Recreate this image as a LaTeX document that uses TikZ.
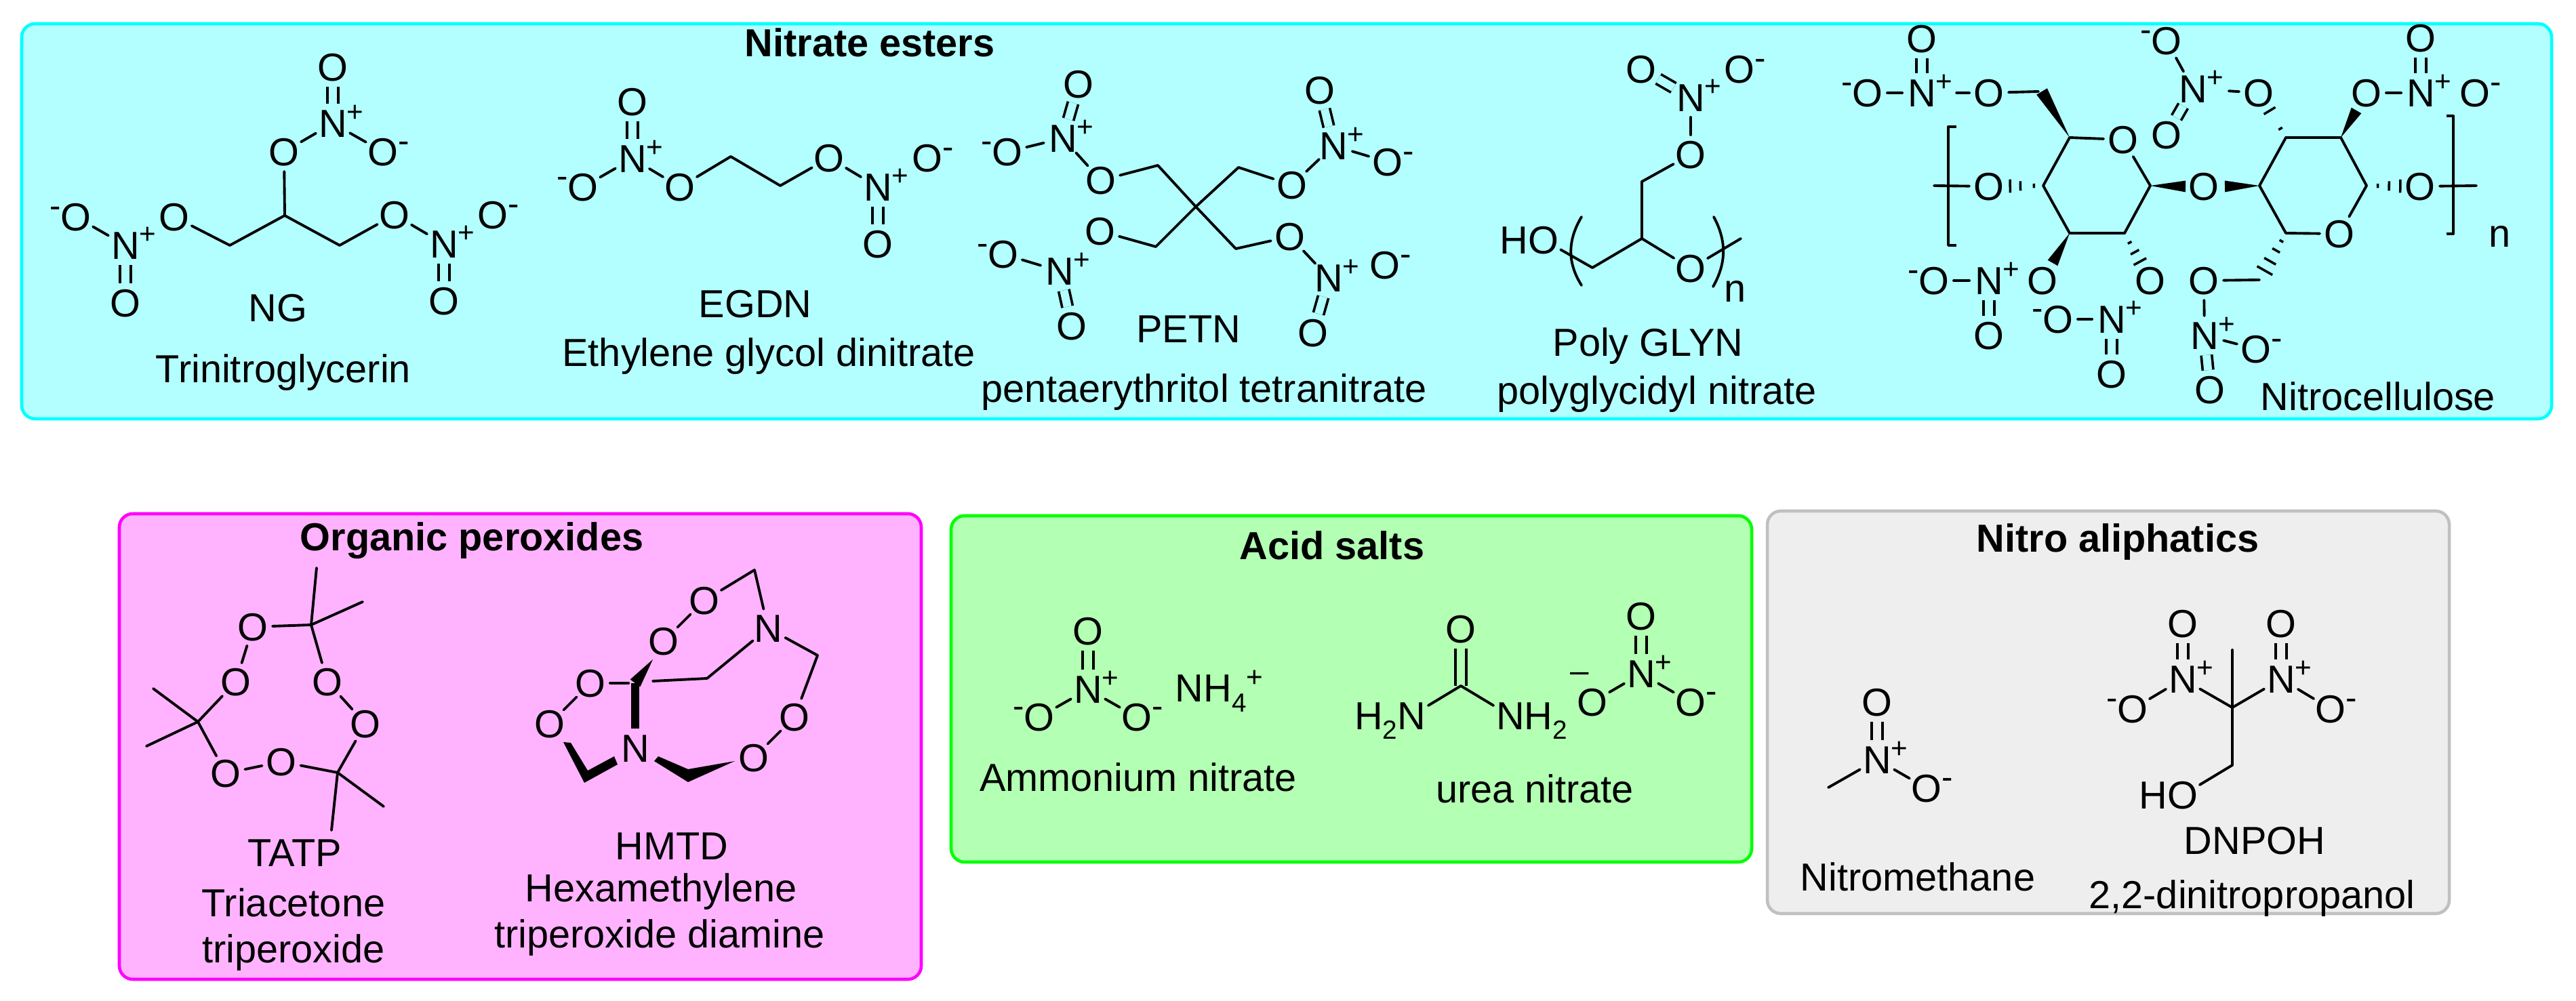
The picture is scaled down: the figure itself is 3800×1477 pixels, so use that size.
\documentclass[tikz,border=0pt]{standalone}
\usepackage{fontspec}
\setmainfont{Liberation Sans}
\usetikzlibrary{calc}
\definecolor{cyanbg}{HTML}{B3FFFF}\definecolor{cyanln}{HTML}{00FFFF}
\definecolor{pinkbg}{HTML}{FFB3FF}\definecolor{pinkln}{HTML}{FF00FF}
\definecolor{greenbg}{HTML}{B3FFB3}\definecolor{greenln}{HTML}{00FF00}
\definecolor{graybg}{HTML}{EEEEEE}\definecolor{grayln}{HTML}{C0C0C0}
\newcommand\chgfont{\fontsize{12}{12}\selectfont}
\newcommand\minfont{\fontsize{14}{14}\selectfont}
\newcommand\atm[1]{\makebox[0pt]{\raisebox{-5.87pt}[0pt][0pt]{#1}}}
\newcommand\Np{N\rlap{\raisebox{6.5pt}{\chgfont+}}}
\newcommand\Or{O\rlap{\raisebox{5.7pt}{\minfont-}}}
\newcommand\Ol{\llap{\raisebox{5.7pt}{\minfont-}}O}
\newcommand\subn[1]{\raisebox{-4pt}{\fontsize{11}{11}\selectfont #1}}
\newcommand\Atom[4]{\node[atom] (#1) at (#2,#3) {\atm{#4}};}
\newcommand\Cc[3]{\coordinate (#1) at (#2,#3);}
\newcommand\Bonds[1]{\foreach \aa/\bb in {#1} \draw[bond] (\aa) -- (\bb);}
\newcommand\Dbls[2]{\foreach \aa/\bb in {#2} \draw[dblb=#1] (\aa) -- (\bb);}
\newcommand\WedgeB[3]{\fill ($(#1)$) -- ($(#2)!#3!90:(#1)$) -- ($(#2)!#3!-90:(#1)$) -- cycle;}
\newcommand\HashB[3]{\foreach \ff/\ww in {#3} \draw[hashb] ($(#1)!\ff!(#2)!\ww!90:(#2)$) -- ($(#1)!\ff!(#2)!\ww!-90:(#2)$);}
\tikzset{
  atom/.style={circle,inner sep=0pt,outer sep=0pt,minimum size=5.8mm,font=\fontsize{16.4}{20}\selectfont},
  lbl/.style={anchor=base,inner sep=0pt,font=\fontsize{16.4}{20}\selectfont},
  ttl/.style={anchor=base,inner sep=0pt,font=\fontsize{16.4}{20}\selectfont\bfseries},
  bond/.style={line width=1.1pt,line cap=round,line join=round},
  dblb/.style={line width=1.05pt,double=#1,double distance=3.4pt},
  hashb/.style={line width=1pt},
  panel/.style={line width=1.3pt,rounded corners=2mm},
}
\begin{document}
\begin{tikzpicture}[x=0.01cm,y=-0.01cm]
\useasboundingbox (0,0) rectangle (3800,1477);
\fill[white] (0,0) rectangle (3800,1477);
\draw[panel,fill=cyanbg,draw=cyanln] (32,35) rectangle (3764,618);
\draw[panel,fill=pinkbg,draw=pinkln] (176,758) rectangle (1359,1445);
\draw[panel,fill=greenbg,draw=greenln] (1403,761) rectangle (2584,1272);
\draw[panel,fill=graybg,draw=grayln] (2607,754) rectangle (3613,1348);
% titles
\node[ttl] (t1) at (1283,84) {Nitrate esters};
\node[ttl] (t2) at (696,813) {Organic peroxides};
\node[ttl] (t3) at (1965,826) {Acid salts};
\node[ttl] (t4) at (3124,815) {Nitro aliphatics};
% ---------- NG
\Atom{a1}{491}{99}{O}\Atom{a2}{491}{182}{\Np}\Atom{a3}{419}{224}{O}\Atom{a4}{565}{224}{\Or}
\Cc{a5}{420}{318}\Cc{a6}{339}{362}\Cc{a7}{501}{362}
\Atom{a8}{257}{320}{O}\Atom{a9}{185}{362}{\Np}\Atom{a10}{112}{320}{\Ol}\Atom{a11}{185}{447}{O}
\Atom{a12}{582}{317}{O}\Atom{a13}{655}{360}{\Np}\Atom{a14}{727}{317}{\Or}\Atom{a15}{655}{444}{O}
\Dbls{cyanbg}{a1/a2,a9/a11,a13/a15}
\Bonds{a3/a2,a2/a4,a3/a5,a5/a6,a5/a7,a6/a8,a10/a9,a7/a12,a12/a13}
\node[lbl] (ng) at (410,475) {NG};
\node[lbl] (ngn) at (418,565) {Trinitroglycerin};
% ---------- EGDN
\Atom{b1}{860}{276}{\Ol}\Atom{b2}{933}{234}{\Np}\Atom{b3}{933}{150}{O}\Atom{b4}{1003}{276}{O}
\Cc{b5}{1078}{231}\Cc{b6}{1151}{274}
\Atom{b7}{1223}{233}{O}\Atom{b8}{1295}{276}{\Np}\Atom{b9}{1368}{233}{\Or}\Atom{b10}{1295}{360}{O}
\Dbls{cyanbg}{b2/b3,b8/b10}
\Bonds{b1/b2,b2/b4,b4/b5,b5/b6,b6/b7,b7/b8}
\node[lbl] (eg) at (1114,469) {EGDN};
\node[lbl] (egn) at (1134,541) {Ethylene glycol dinitrate};
% ---------- PETN
\Atom{c1}{1486}{224}{\Ol}\Atom{c2}{1568}{204}{\Np}\Atom{c3}{1591}{124}{O}\Atom{c4}{1624}{266}{O}
\Cc{c5}{1708}{244}\Cc{c6}{1764}{305}\Cc{c7}{1827}{247}
\Atom{c8}{1906}{273}{O}\Atom{c9}{1967}{215}{\Np}\Atom{c10}{1947}{133}{O}\Atom{c11}{2047}{239}{\Or}
\Cc{c12}{1705}{364}\Atom{c13}{1623}{341}{O}\Atom{c14}{1563}{400}{\Np}\Atom{c15}{1480}{375}{\Ol}\Atom{c16}{1581}{481}{O}
\Cc{c17}{1823}{367}\Atom{c18}{1903}{349}{O}\Atom{c19}{1960}{410}{\Np}\Atom{c20}{1937}{491}{O}\Atom{c21}{2043}{391}{\Or}
\Dbls{cyanbg}{c2/c3,c9/c10,c14/c16,c19/c20}
\Bonds{c1/c2,c2/c4,c4/c5,c5/c6,c7/c6,c6/c12,c6/c17,c7/c8,c8/c9,c9/c11,c12/c13,c15/c14,c17/c18,c18/c19}
\node[lbl] (pe) at (1753,506) {PETN};
\node[lbl] (pen) at (1776,594) {pentaerythritol tetranitrate};
% ---------- Poly GLYN
\Atom{d1}{2421}{102}{O}\Atom{d2}{2494}{144}{\Np}\Atom{d3}{2566}{102}{\Or}\Atom{d4}{2494}{228}{O}
\Cc{d5}{2422}{268}\Cc{d6}{2422}{352}\Cc{d7}{2349}{395}
\Atom{d8}{2277}{354}{\llap{H}O}\Atom{d9}{2494}{396}{O}\Cc{d10}{2568}{352}
\Dbls{cyanbg}{d2/d1}
\Bonds{d2/d4,d4/d5,d5/d6,d6/d7,d7/d8,d6/d9,d9/d10}
\draw[bond] (2333,320) .. controls (2312,355) and (2312,388) .. (2333,421);
\draw[bond] (2528,320) .. controls (2547,355) and (2547,388) .. (2527,423);
\node[lbl] (dn) at (2560,446) {n};
\node[lbl] (gl) at (2431,526) {Poly GLYN};
\node[lbl] (gln) at (2444,597) {polyglycidyl nitrate};
% ---------- Nitrocellulose
\Atom{e1}{2755}{137}{\Ol}\Atom{e2}{2835}{137}{\Np}\Atom{e3}{2835}{57}{O}\Atom{e4}{2934}{137}{O}
\Cc{e5}{3007}{135}\Cc{e5w}{3012}{135}\Cc{e6}{3053}{203}\Atom{e7}{3132}{206}{O}\Cc{e8}{3172}{274}\Cc{e9}{3134}{344}\Cc{e10}{3053}{344}\Cc{e11}{3014}{274}
\Atom{e12}{2934}{275}{O}\Cc{e13}{2853}{274}
\Atom{e14}{3251}{275}{O}\Cc{e15}{3224}{275}\Cc{e16}{3282}{275}
\Cc{e17}{3333}{274}\Cc{e18}{3372}{203}\Cc{e19}{3453}{203}\Cc{e20}{3491}{274}\Atom{e21}{3451}{345}{O}\Cc{e22}{3372}{344}
\Atom{e23}{3570}{275}{O}\Cc{e24}{3653}{274}
\Atom{e25}{3491}{137}{O}\Atom{e26}{3571}{137}{\Np}\Atom{e27}{3571}{56}{O}\Atom{e28}{3651}{137}{\Or}\Cc{e25w}{3476}{163}
\Atom{e29}{3332}{137}{O}\Atom{e30}{3235}{131}{\Np}\Atom{e31}{3196}{60}{\Ol}\Atom{e32}{3196}{199}{O}
\Atom{e33}{3013}{414}{O}\Cc{e33w}{3028}{388}\Atom{e34}{2934}{414}{\Np}\Atom{e35}{2853}{414}{\Ol}\Atom{e36}{2934}{495}{O}
\Atom{e37}{3172}{414}{O}\Atom{e38}{3115}{471}{\Np}\Atom{e39}{3036}{471}{\Ol}\Atom{e40}{3115}{552}{O}
\Cc{e41}{3333}{413}\Atom{e42}{3251}{414}{O}\Atom{e43}{3252}{495}{\Np}\Atom{e44}{3328}{515}{\Or}\Atom{e45}{3260}{575}{O}
\Dbls{cyanbg}{e2/e3,e26/e27,e30/e32,e34/e36,e38/e40,e43/e45}
\Bonds{e1/e2,e4/e5,e6/e7,e7/e8,e8/e9,e9/e10,e10/e11,e11/e6,e12/e13,e17/e18,e18/e19,e19/e20,e20/e21,e21/e22,e22/e17,e23/e24,e25/e26,e30/e31,e35/e34,e39/e38,e41/e42,e42/e43,e43/e44}
\draw[bond,shorten <=6.3pt] (e2) -- (e4);
\draw[bond,shorten <=6.8pt] (e30) -- (e29);
\WedgeB{e6}{e5w}{2.6pt}\WedgeB{e8}{e15}{2.4pt}\WedgeB{e17}{e16}{2.4pt}\WedgeB{e19}{e25w}{2.4pt}\WedgeB{e10}{e33w}{2.4pt}
\HashB{e11}{e12}{.17/.9pt,.42/2pt,.61/2.8pt}
\HashB{e20}{e23}{.21/.9pt,.42/2pt,.63/2.8pt}
\HashB{e18}{e29}{.2/.9pt,.6/2.8pt}
\HashB{e9}{e37}{.2/.9pt,.4/2pt,.6/3pt}
\HashB{e22}{e41}{.17/.9pt,.37/1.8pt,.6/2.8pt,.8/3.7pt}
\draw[bond,line cap=butt] (2886,187) -- (2874,187) -- (2874,362) -- (2886,362);
\draw[bond,line cap=butt] (3609,171) -- (3619,171) -- (3619,345) -- (3609,345);
\node[lbl] (en) at (3687,365) {n};
\node[lbl] (nc) at (3508,606) {Nitrocellulose};
% ---------- TATP
\Cc{f1}{459}{922}\Cc{f2}{467}{838}\Cc{f3}{535}{888}
\Atom{f4}{373}{925}{O}\Atom{f5}{348}{1006}{O}\Atom{f6}{483}{1006}{O}\Atom{f7}{539}{1068}{O}
\Cc{f8}{292}{1065}\Cc{f9}{226}{1016}\Cc{f10}{216}{1101}
\Atom{f11}{333}{1141}{O}\Atom{f12}{415}{1124}{O}
\Cc{f13}{498}{1140}\Cc{f14}{566}{1190}\Cc{f15}{489}{1225}
\Bonds{f1/f2,f1/f3,f4/f1,f4/f5,f5/f8,f8/f9,f8/f10,f8/f11,f11/f12,f12/f13,f13/f14,f13/f15,f13/f7,f7/f6,f6/f1}
\node[lbl] (ta) at (435,1278) {TATP};
\node[lbl] (tb) at (433,1352) {Triacetone};
\node[lbl] (tc) at (433,1420) {triperoxide};
% ---------- HMTD
\Cc{g1}{1113}{841}\Atom{g2}{1039}{886}{O}\Atom{g3}{979}{946}{O}\Atom{g4}{1133}{927}{N}\Cc{g5}{1206}{967}
\Atom{g6}{1172}{1058}{O}\Atom{g7}{1112}{1118}{O}\Atom{g8}{937}{1104}{N}\Atom{g9}{811}{1068}{O}\Atom{g10}{871}{1008}{O}
\Cc{g11}{937}{1008}\Cc{g12}{1043}{1001}\Cc{g13}{963}{1005}\Cc{g14}{963}{973}
\Bonds{g2/g1,g1/g4,g4/g5,g5/g6,g6/g7,g2/g3,g9/g10,g12/g4,g12/g13}
\draw[bond,shorten >=2.8pt] (g10) -- (g11);
\WedgeB{g14}{g11}{2.6pt}
\draw[line width=3.4pt] (g11) -- (g8);
\fill (831,1095) -- (842,1096) -- (867,1137) -- (906,1116) -- (911,1128) -- (862,1155) -- cycle;
\fill (971,1116) -- (1015,1135) -- (1084,1123) -- (1015,1154) -- (965,1123) -- cycle;
\node[lbl] (ha) at (991,1268) {HMTD};
\node[lbl] (hb) at (975,1330) {Hexamethylene};
\node[lbl] (hc) at (973,1398) {triperoxide diamine};
% ---------- Ammonium nitrate
\Atom{h1}{1605}{931}{O}\Atom{h2}{1605}{1017}{\Np}\Atom{h3}{1533}{1058}{\Ol}\Atom{h4}{1677}{1058}{\Or}
\Dbls{greenbg}{h1/h2}
\Bonds{h3/h2,h2/h4}
\node[lbl,anchor=base west] (h5) at (1733,1036) {NH\subn{4}\raisebox{6.3pt}{\chgfont+}};
\node[lbl] (hn) at (1679,1168) {Ammonium nitrate};
% ---------- Urea nitrate
\Atom{i1}{2155}{928}{O}\Cc{i2}{2155}{1012}
\Atom{i3}{2082}{1056}{\llap{H\subn{2}}N}\Atom{i4}{2228}{1056}{N\rlap{H\subn{2}}}
\Atom{i5}{2421}{909}{O}\Atom{i6}{2421}{994}{\Np}\Atom{i7}{2349}{1036}{O}\Atom{i8}{2494}{1036}{\Or}
\node[lbl,font=\minfont] (i9) at (2330,1007) {–};
\Dbls{greenbg}{i1/i2,i5/i6}
\Bonds{i2/i3,i2/i4,i7/i6,i6/i8}
\node[lbl] (in) at (2264,1185) {urea nitrate};
% ---------- Nitromethane
\Atom{j1}{2769}{1036}{O}\Atom{j2}{2769}{1121}{\Np}\Atom{j3}{2842}{1163}{\Or}\Cc{j4}{2697}{1162}
\Dbls{graybg}{j1/j2}
\Bonds{j2/j3,j4/j2}
\node[lbl] (jn) at (2829,1314) {Nitromethane};
% ---------- DNPOH
\Cc{k1}{3293}{1044}\Cc{k2}{3293}{959}\Cc{k3}{3293}{1129}
\Atom{k4}{3220}{1173}{\llap{H}O}\Atom{k5}{3220}{1002}{\Np}\Atom{k6}{3220}{920}{O}\Atom{k7}{3146}{1046}{\Ol}
\Atom{k8}{3365}{1002}{\Np}\Atom{k9}{3365}{920}{O}\Atom{k10}{3438}{1046}{\Or}
\Dbls{graybg}{k5/k6,k8/k9}
\Bonds{k1/k2,k1/k3,k3/k4,k5/k1,k8/k1,k7/k5,k8/k10}
\node[lbl] (ka) at (3326,1260) {DNPOH};
\node[lbl] (kb) at (3322,1340) {2,2-dinitropropanol};
\end{tikzpicture}
\end{document}
